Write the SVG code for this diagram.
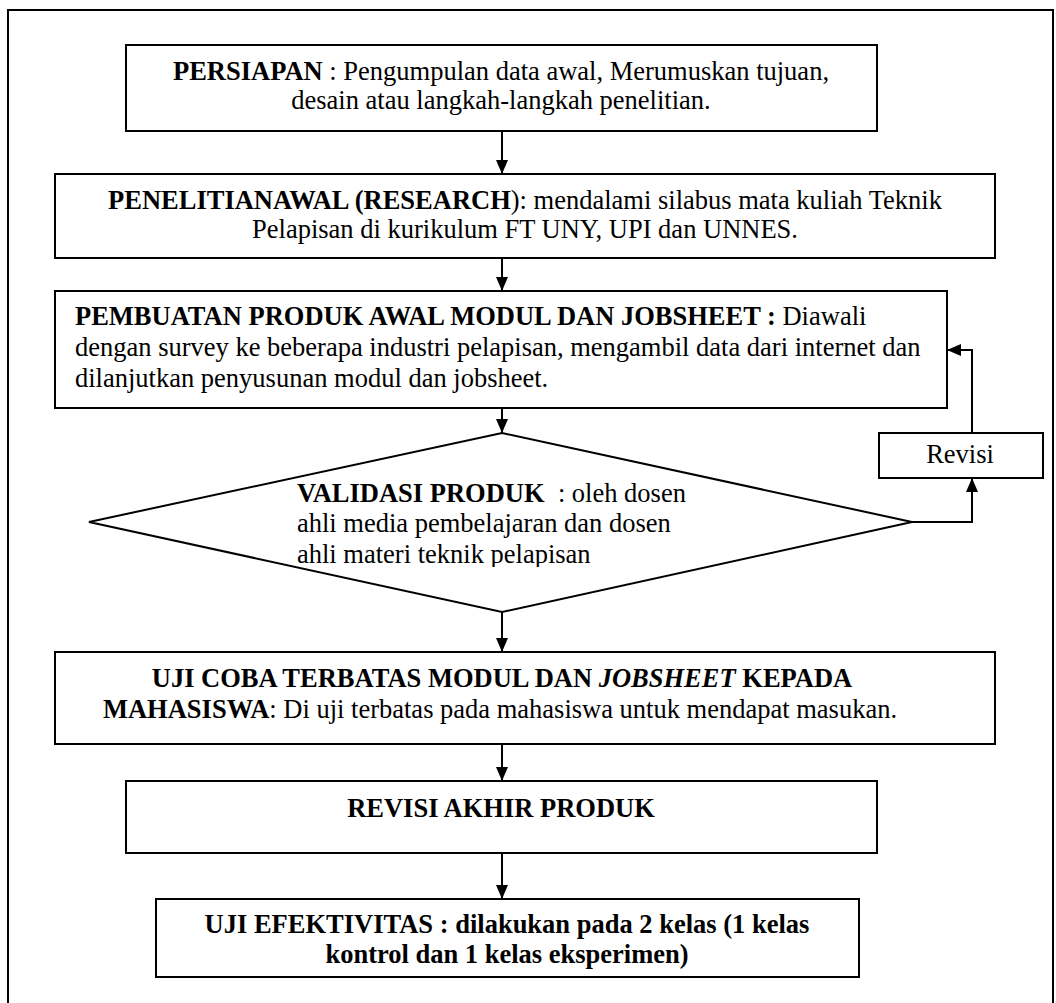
<svg xmlns="http://www.w3.org/2000/svg" width="1056" height="1003" viewBox="0 0 1056 1003">
<style>
.box{fill:#fff;stroke:#000;stroke-width:2}
.ln{fill:none;stroke:#000;stroke-width:2}
text{font-family:"Liberation Serif","Times New Roman",serif;font-size:26.5px;fill:#000}
.b{font-weight:bold}
.c{text-anchor:middle}
</style>
<defs>
<marker id="ah" viewBox="0 0 14 12" refX="14" refY="6" markerWidth="14" markerHeight="12" markerUnits="userSpaceOnUse" orient="auto">
<path d="M0,0 L14,6 L0,12 Z" fill="#000"/>
</marker>
<clipPath id="dclip"><rect x="0" y="0" width="1056" height="567"/></clipPath>
</defs>
<rect width="1056" height="1003" fill="#fff"/>
<rect x="8" y="10" width="1045" height="1010" fill="none" stroke="#000" stroke-width="2"/>
<g id="connectors">
<line class="ln" x1="502" y1="131" x2="502" y2="174" marker-end="url(#ah)"/>
<line class="ln" x1="502" y1="258" x2="502" y2="291" marker-end="url(#ah)"/>
<line class="ln" x1="502" y1="408" x2="502" y2="433" marker-end="url(#ah)"/>
<line class="ln" x1="502" y1="612" x2="502" y2="652" marker-end="url(#ah)"/>
<line class="ln" x1="502" y1="744" x2="502" y2="781" marker-end="url(#ah)"/>
<line class="ln" x1="502" y1="853" x2="502" y2="899" marker-end="url(#ah)"/>
<polyline class="ln" points="912,522 972,522 972,478" marker-end="url(#ah)"/>
<polyline class="ln" points="972,433 972,350 947,350" marker-end="url(#ah)"/>
</g>
<g id="persiapan">
<rect class="box" x="126" y="45" width="751" height="86"/>
<text class="c" x="501" y="80"><tspan class="b">PERSIAPAN</tspan> : Pengumpulan data awal, Merumuskan tujuan,</text>
<text class="c" x="501" y="109">desain atau langkah-langkah penelitian.</text>
</g>
<g id="penelitian">
<rect class="box" x="55" y="174" width="940" height="84"/>
<text class="c" x="525" y="209"><tspan class="b">PENELITIANAWAL (RESEARCH</tspan>): mendalami silabus mata kuliah Teknik</text>
<text class="c" x="525" y="238">Pelapisan di kurikulum FT UNY, UPI dan UNNES.</text>
</g>
<g id="pembuatan">
<rect class="box" x="55" y="291" width="892" height="117"/>
<text x="75" y="325"><tspan class="b">PEMBUATAN PRODUK AWAL MODUL DAN JOBSHEET : </tspan>Diawali</text>
<text x="75" y="356">dengan survey ke beberapa industri pelapisan, mengambil data dari internet dan</text>
<text x="75" y="387">dilanjutkan penyusunan modul dan jobsheet.</text>
</g>
<g id="validasi">
<polygon class="box" points="502,433 912,522 502,612 89,522"/>
<g clip-path="url(#dclip)">
<text x="297" y="502"><tspan class="b">VALIDASI PRODUK</tspan>&#160; : oleh dosen</text>
<text x="297" y="532">ahli media pembelajaran dan dosen</text>
<text x="297" y="563">ahli materi teknik pelapisan</text>
</g>
</g>
<g id="revisi">
<rect class="box" x="879" y="433" width="164" height="45"/>
<text class="c" x="960" y="463">Revisi</text>
</g>
<g id="ujicoba">
<rect class="box" x="55" y="652" width="940" height="92"/>
<text class="c b" x="502" y="687">UJI COBA TERBATAS MODUL DAN <tspan font-style="italic">JOBSHEET</tspan> KEPADA</text>
<text class="c" x="500" y="718"><tspan class="b">MAHASISWA</tspan>: Di uji terbatas pada mahasiswa untuk mendapat masukan.</text>
</g>
<g id="revisiakhir">
<rect class="box" x="126" y="781" width="751" height="72"/>
<text class="c b" x="501" y="817">REVISI AKHIR PRODUK</text>
</g>
<g id="ujiefektivitas">
<rect class="box" x="156" y="899" width="703" height="78"/>
<text class="c b" x="507" y="933">UJI EFEKTIVITAS : dilakukan pada 2 kelas (1 kelas</text>
<text class="c b" x="507" y="963">kontrol dan 1 kelas eksperimen)</text>
</g>
</svg>
